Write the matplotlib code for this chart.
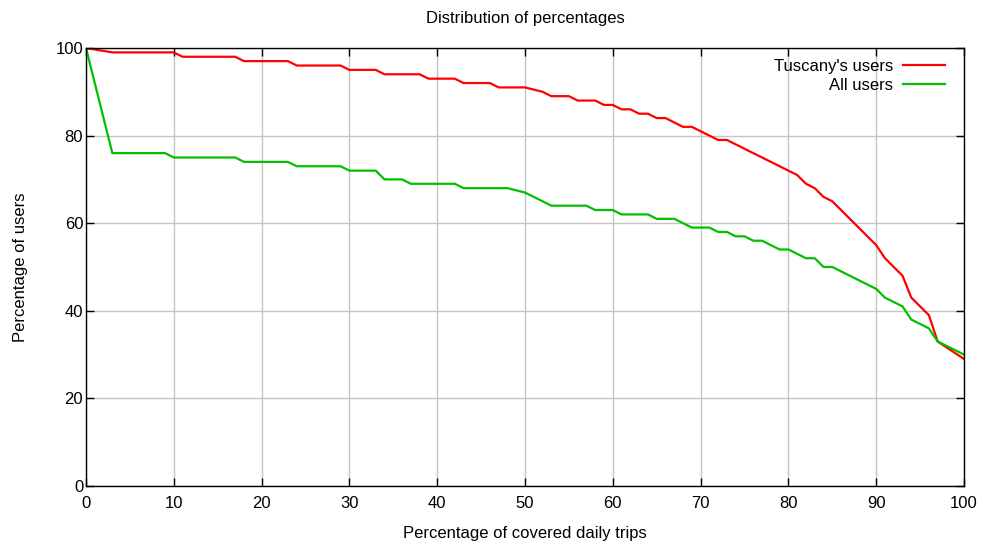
import matplotlib
matplotlib.use("Agg")
import matplotlib.pyplot as plt

# Breakpoints
tuscanyX = [0, 3, 10, 11, 17, 18, 23, 24, 29, 30, 33, 34, 38, 39, 42, 43, 46, 47, 50, 52,
            53, 55, 56, 58, 59, 60, 61, 62, 63, 64, 65, 66, 68, 69, 72, 73, 81, 82, 83, 84,
            85, 90, 91, 93, 94, 96, 97, 100]
tuscanyY = [100, 99, 99, 98, 98, 97, 97, 96, 96, 95, 95, 94, 94, 93, 93, 92, 92, 91, 91, 90,
            89, 89, 88, 88, 87, 87, 86, 86, 85, 85, 84, 84, 82, 82, 79, 79, 71, 69, 68, 66,
            65, 55, 52, 48, 43, 39, 33, 29]

allX = [0, 3, 9, 10, 17, 18, 23, 24, 29, 30, 33, 34, 36, 37, 42, 43, 48, 50, 53, 57,
        58, 60, 61, 64, 65, 67, 69, 71, 72, 73, 74, 75, 76, 77, 79, 80, 82, 83, 84, 85,
        90, 91, 93, 94, 96, 97, 100]
allY = [100, 76, 76, 75, 75, 74, 74, 73, 73, 72, 72, 70, 70, 69, 69, 68, 68, 67, 64, 64,
        63, 63, 62, 62, 61, 61, 59, 59, 58, 58, 57, 57, 56, 56, 54, 54, 52, 52, 50, 50,
        45, 43, 41, 38, 36, 33, 30]

plt.rcParams['font.family'] = ['Liberation Sans', 'DejaVu Sans']
plt.rcParams['font.size'] = 12

fig = plt.figure(figsize=(9.83, 5.45), dpi=100)
ax = fig.add_axes([86 / 983, 1 - 486 / 545, (964 - 86) / 983, (486 - 48) / 545])

ax.plot(tuscanyX, tuscanyY, color='#ff0000', lw=1.6, label="Tuscany's users")
ax.plot(allX, allY, color='#00c000', lw=1.6, label='All users')

ax.set_xlim(0, 100)
ax.set_ylim(0, 100)
ax.set_xticks(range(0, 101, 10))
ax.set_yticks(range(0, 101, 20))
ax.grid(True, color='#c4c4c4', lw=1)
ax.set_axisbelow(True)
ax.tick_params(direction='in', top=True, right=True, length=6, width=1)
ax.tick_params(axis='y', pad=2)
ax.tick_params(axis='x', pad=7)
for s in ax.spines.values():
    s.set_linewidth(1)

ax.set_xlabel('Percentage of covered daily trips', labelpad=11)
ax.set_ylabel('Percentage of users', labelpad=20)
ax.set_title('Distribution of percentages', pad=18, fontsize=12)

leg = ax.legend(loc='upper right', bbox_to_anchor=(0.978, 0.976), frameon=False,
                markerfirst=False, handlelength=2.5, handletextpad=0.6,
                borderaxespad=0, borderpad=0, labelspacing=0.27)
for t in leg.get_texts():
    t.set_ha('right')

fig.savefig('out.png', dpi=100)
